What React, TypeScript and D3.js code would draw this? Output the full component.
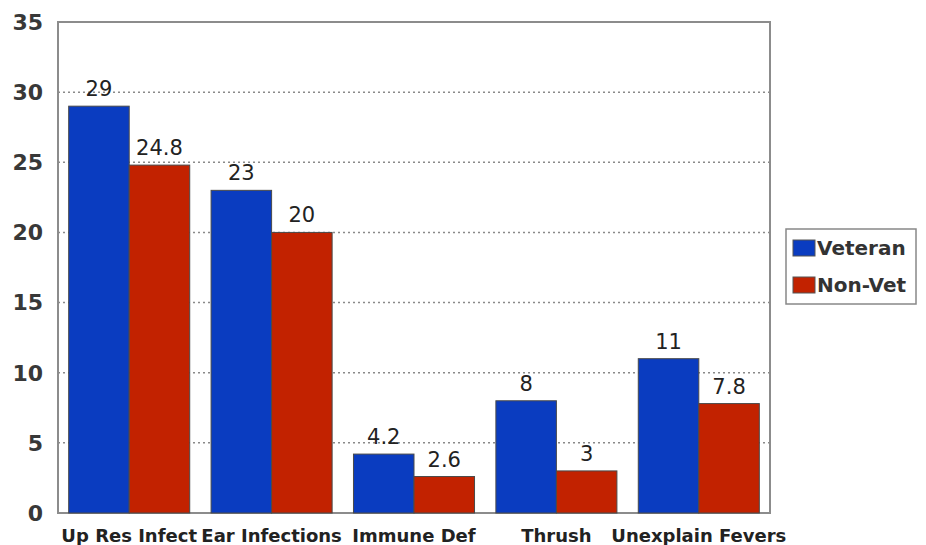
import React from "react";
import * as d3 from "d3";

const categories = ["Up Res Infect", "Ear Infections", "Immune Def", "Thrush", "Unexplain Fevers"];
const seriesNames = ["Veteran", "Non-Vet"];
const veteran = [29, 23, 4.2, 8, 11];
const nonVet = [24.8, 20, 2.6, 3, 7.8];
const yTicks = [0, 5, 10, 15, 20, 25, 30, 35];
const colors = ["#0a3cc0", "#c22200"];

export default function App() {
  const W = 926, H = 545;
  const left = 58, right = 770, top = 22, bottom = 513;
  const x = d3.scaleBand<string>().domain(categories).range([left, right]).paddingInner(0.15).paddingOuter(0.075);
  const x1 = d3.scaleBand<string>().domain(seriesNames).range([0, x.bandwidth()]).padding(0);
  const y = d3.scaleLinear().domain([0, 35]).range([bottom, top]);
  const series = [veteran, nonVet];
  const font = "'DejaVu Sans', Verdana, sans-serif";
  return (
    <svg width={W} height={H} style={{ position: "absolute", left: 0, top: 0, background: "#fff" }} fontFamily={font}>
      <rect x={0} y={0} width={W} height={H} fill="#fff" />
      {yTicks.filter(t => t > 0 && t < 35).map(t => (
        <line key={t} x1={left} x2={right} y1={y(t)} y2={y(t)} stroke="#8a8a8a" strokeWidth={1.5} strokeDasharray="2,3" />
      ))}
      <rect x={left} y={top} width={right - left} height={bottom - top} fill="none" stroke="#8c8c8c" strokeWidth={2} />
      {yTicks.map(t => (
        <text key={t} x={left - 15} y={y(t)} dy="0.36em" textAnchor="end" fontSize={22} fontWeight="bold" fill="#383838">{t}</text>
      ))}
      {categories.map((c, i) => (
        <g key={c}>
          {series.map((s, j) => {
            const bx = (x(c) as number) + (x1(seriesNames[j]) as number);
            const bw = x1.bandwidth();
            return (
              <g key={j}>
                <rect x={bx} y={y(s[i])} width={bw} height={bottom - y(s[i])} fill={colors[j]} stroke="#4a4a4a" strokeWidth={1} />
                <text x={bx + bw / 2} y={y(s[i]) - 10} textAnchor="middle" fontSize={21} fill="#222">{s[i]}</text>
              </g>
            );
          })}
          <text x={(x(c) as number) + x.bandwidth() / 2} y={542} textAnchor="middle" fontSize={18} fontWeight="bold" fill="#222">{c}</text>
        </g>
      ))}
      <rect x={786} y={229} width={130} height={75} fill="#fff" stroke="#888" strokeWidth={1.5} />
      {seriesNames.map((n, j) => (
        <g key={n}>
          <rect x={793} y={240 + j * 37} width={22} height={16} fill={colors[j]} stroke="#555" strokeWidth={1} />
          <text x={817} y={248 + j * 37} dy="0.36em" fontSize={20} fontWeight="bold" fill="#333">{n}</text>
        </g>
      ))}
    </svg>
  );
}
